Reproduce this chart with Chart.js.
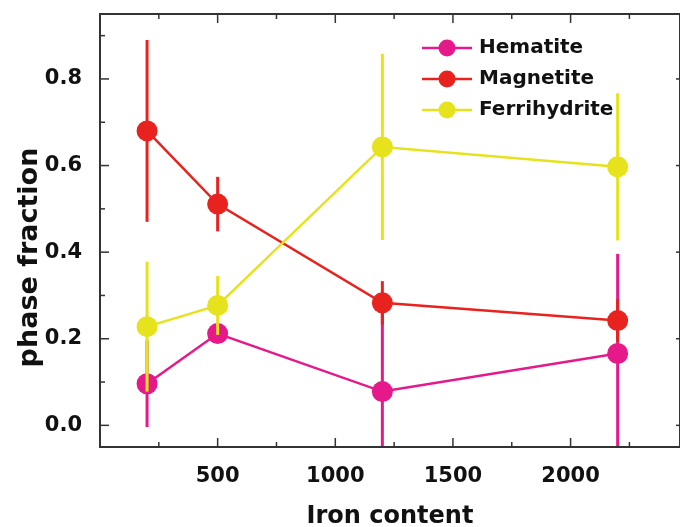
<!DOCTYPE html>
<html>
<head>
<meta charset="utf-8">
<script src="https://cdn.jsdelivr.net/npm/chart.js@4.4.1/dist/chart.umd.min.js"></script>
<style>
  html, body { margin: 0; padding: 0; background: #fff; }
</style>
</head>
<body>
<canvas id="chart" width="680" height="527"></canvas>
<script>
// values
const ironContent = [200, 500, 1200, 2200];
const seriesNames = ['Hematite', 'Magnetite', 'Ferrihydrite'];
const hematite = [0.096, 0.212, 0.078, 0.166];
const hematiteErr = [0.10, 0.01, 0.20, 0.23];
const magnetite = [0.680, 0.511, 0.283, 0.242];
const magnetiteErr = [0.21, 0.063, 0.05, 0.05];
const ferrihydrite = [0.228, 0.277, 0.643, 0.597];
const ferrihydriteErr = [0.15, 0.068, 0.215, 0.17];

const xTicks = [500, 1000, 1500, 2000];
const xMinorTicks = [250, 750, 1250, 1750, 2250];
const yTicks = [0, 0.2, 0.4, 0.6, 0.8];
const yMinorTicks = [0.1, 0.3, 0.5, 0.7, 0.9];

const colors = ['#e6198a', '#e8231f', '#e6e21c'];
const FONT = '"DejaVu Sans", sans-serif';

function toPoints(ys) {
    return ys.map((y, i) => ({ x: ironContent[i], y: y }));
}

const errors = [hematiteErr, magnetiteErr, ferrihydriteErr];

// error bars drawn under each dataset's own line/markers
const errorBars = {
    id: 'errorBars',
    beforeDatasetDraw: (chart, args) => {
        const { ctx, chartArea, scales } = chart;
        const ds = chart.data.datasets[args.index];
        const err = errors[args.index];
        ctx.save();
        ctx.beginPath();
        ctx.rect(chartArea.left, chartArea.top, chartArea.right - chartArea.left, chartArea.bottom - chartArea.top);
        ctx.clip();
        ctx.strokeStyle = ds.borderColor;
        ctx.lineWidth = 3;
        ds.data.forEach((p, i) => {
            const x = scales.x.getPixelForValue(p.x);
            ctx.beginPath();
            ctx.moveTo(x, scales.y.getPixelForValue(p.y - err[i]));
            ctx.lineTo(x, scales.y.getPixelForValue(p.y + err[i]));
            ctx.stroke();
        });
        ctx.restore();
    }
};

// frame, inward ticks, y title, legend
const frame = {
    id: 'frame',
    afterDatasetsDraw: (chart) => {
        const { ctx, chartArea: a, scales } = chart;
        ctx.save();
        ctx.strokeStyle = '#333';
        ctx.lineWidth = 2;
        ctx.strokeRect(a.left, a.top, a.right - a.left, a.bottom - a.top);

        ctx.lineWidth = 1.5;
        const tick = (x1, y1, x2, y2) => {
            ctx.beginPath();
            ctx.moveTo(x1, y1);
            ctx.lineTo(x2, y2);
            ctx.stroke();
        };
        xTicks.forEach(v => {
            const x = scales.x.getPixelForValue(v);
            tick(x, a.bottom, x, a.bottom - 9);
            tick(x, a.top, x, a.top + 9);
        });
        xMinorTicks.forEach(v => {
            const x = scales.x.getPixelForValue(v);
            tick(x, a.bottom, x, a.bottom - 5);
            tick(x, a.top, x, a.top + 5);
        });
        yTicks.forEach(v => {
            const y = scales.y.getPixelForValue(v);
            tick(a.left, y, a.left + 9, y);
            tick(a.right, y, a.right - 4, y);
        });
        yMinorTicks.forEach(v => {
            const y = scales.y.getPixelForValue(v);
            tick(a.left, y, a.left + 5, y);
        });

        // y axis title
        ctx.fillStyle = '#111';
        ctx.font = 'bold 27px ' + FONT;
        ctx.textAlign = 'center';
        ctx.textBaseline = 'alphabetic';
        ctx.translate(37, (a.top + a.bottom) / 2 + 27);
        ctx.rotate(-Math.PI / 2);
        ctx.fillText('phase fraction', 0, 0);
        ctx.restore();

        // legend
        ctx.save();
        const lx = a.left + 322, ly = a.top + 34;
        chart.data.datasets.forEach((ds, i) => {
            const y = ly + i * 31;
            ctx.strokeStyle = ds.borderColor;
            ctx.lineWidth = 2.5;
            ctx.beginPath();
            ctx.moveTo(lx, y);
            ctx.lineTo(lx + 50, y);
            ctx.stroke();
            ctx.fillStyle = ds.pointBackgroundColor;
            ctx.beginPath();
            ctx.arc(lx + 25, y, 8.5, 0, Math.PI * 2);
            ctx.fill();
            ctx.fillStyle = '#111';
            ctx.font = 'bold 20px ' + FONT;
            ctx.textAlign = 'left';
            ctx.textBaseline = 'middle';
            ctx.fillText(ds.label, lx + 57, y);
        });
        ctx.restore();
    }
};

const datasets = [hematite, magnetite, ferrihydrite].map((ys, i) => ({
    label: seriesNames[i],
    data: toPoints(ys),
    borderColor: colors[i],
    pointBackgroundColor: colors[i],
    pointBorderWidth: 0,
    pointRadius: 10.5,
    borderWidth: 2.5,
    tension: 0,
    order: 3 - i,
}));

function noPadding(scale) {
    scale.paddingLeft = 0;
    scale.paddingRight = 0;
    scale.paddingTop = 0;
    scale.paddingBottom = 0;
}

const ctx = document.getElementById('chart');
const myChart = new Chart(ctx, {
    type: 'line',
    data: { datasets: datasets },
    options: {
        responsive: false,
        animation: false,
        devicePixelRatio: 1,
        layout: { autoPadding: false, padding: { top: 14, right: 0, left: 0, bottom: 0 } },
        plugins: {
            legend: { display: false },
            tooltip: { enabled: false },
        },
        scales: {
            x: {
                type: 'linear',
                min: 0,
                max: 2465,
                grid: { display: false },
                border: { display: false },
                afterBuildTicks: (scale) => {
                    scale.ticks = xTicks.map(v => ({ value: v }));
                },
                afterFit: (scale) => { scale.height = 80; noPadding(scale); },
                ticks: {
                    padding: 9,
                    color: '#111',
                    font: { family: FONT, size: 21, weight: 'bold' },
                    callback: (v) => String(v),
                },
                title: {
                    display: true,
                    text: 'Iron content',
                    color: '#111',
                    font: { family: FONT, size: 24, weight: 'bold' },
                    padding: { top: 0, bottom: -4 },
                },
            },
            y: {
                min: -0.05,
                max: 0.95,
                grid: { display: false },
                border: { display: false },
                afterBuildTicks: (scale) => {
                    scale.ticks = yTicks.map(v => ({ value: v }));
                },
                afterFit: (scale) => { scale.width = 100; noPadding(scale); },
                ticks: {
                    padding: 10,
                    color: '#111',
                    font: { family: FONT, size: 21, weight: 'bold' },
                    callback: (v) => Number(v).toFixed(1),
                },
            },
        },
    },
    plugins: [errorBars, frame],
});
</script>
</body>
</html>
